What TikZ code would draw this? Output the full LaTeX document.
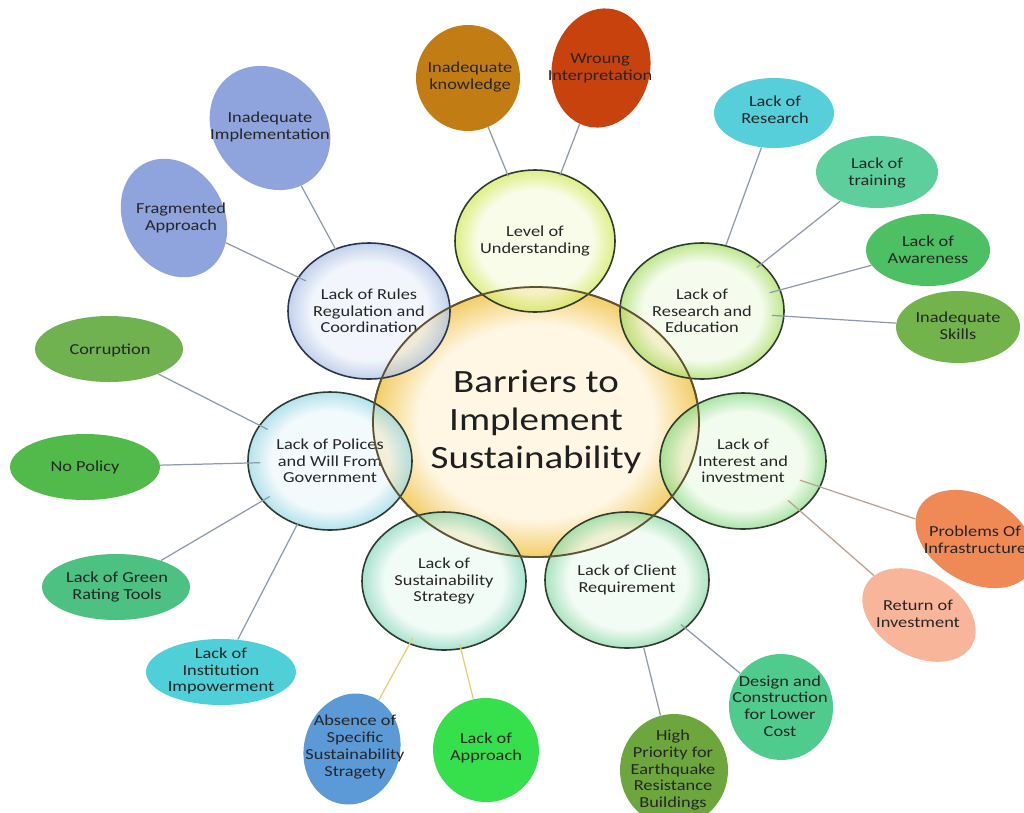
\documentclass[tikz,border=0pt]{standalone}
\usepackage{fontspec}
\newfontfamily\lblfont[FakeStretch=1.2]{Carlito}
\usetikzlibrary{shapes.geometric,calc}

% colours
\definecolor{ink}{HTML}{262626}
\definecolor{coreedge}{HTML}{5E5232}
\definecolor{hubedge}{HTML}{2F3B2F}
\definecolor{rulesedge}{HTML}{2B3550}
\definecolor{linkgray}{HTML}{8D9AAB}
\definecolor{linkgold}{HTML}{E4CF72}
\definecolor{linktan}{HTML}{B8A292}
\definecolor{cKno}{HTML}{C27C14}
\definecolor{cWro}{HTML}{C8420E}
\definecolor{cImp}{HTML}{8FA3DC}
\definecolor{cLre}{HTML}{56CFDB}
\definecolor{cLtr}{HTML}{5CCF9C}
\definecolor{cLaw}{HTML}{4DC063}
\definecolor{cIsk}{HTML}{72B34C}
\definecolor{cCor}{HTML}{70B150}
\definecolor{cNop}{HTML}{52BA4A}
\definecolor{cGre}{HTML}{4CC182}
\definecolor{cIns}{HTML}{4FD0D8}
\definecolor{cAbs}{HTML}{5B9AD6}
\definecolor{cApp}{HTML}{36E04C}
\definecolor{cHig}{HTML}{6EA63E}
\definecolor{cDes}{HTML}{4FCB8D}
\definecolor{cRet}{HTML}{F9B59A}
\definecolor{cPro}{HTML}{EF8A57}

% pale centre with a coloured rim (25bp is the rim of the shaded path)
\definecolor{glowin}{HTML}{FFFFFF}
\definecolor{glowout}{HTML}{808080}
\pgfdeclareradialshading[glowin,glowout]{glow}{\pgfpointorigin}{color(0bp)=(glowin); color(18bp)=(glowin); color(25bp)=(glowout); color(50bp)=(glowout)}

\tikzset{
  sz/.style 2 args={minimum width=#1*0.02cm, minimum height=#2*0.02cm},
  glow/.style 2 args={/utils/exec={\definecolor{glowin}{HTML}{#1}\definecolor{glowout}{HTML}{#2}}, shading=glow},
  small/.style={font=\lblfont\fontsize{8.7}{9.5}\selectfont, text=ink, align=center},
  corebubble/.style={ellipse, inner sep=0pt, draw=coreedge, line width=1pt, glow={FFF7E4}{F3CD68},
    font=\lblfont\fontsize{18.5}{21.6}\selectfont, align=center, text=black!88},
  hub/.style={ellipse, inner sep=0pt, draw=hubedge, line width=0.9pt, fill opacity=0.75, text opacity=1, small},
  leaf/.style={ellipse, inner sep=0pt, draw=none},
  leaftext/.style={small, inner sep=0pt},
  link/.style={draw=linkgray, line width=0.7pt},
  coreline/.style={draw=coreedge, line width=1pt},
}

\begin{document}
\begin{tikzpicture}[x=0.02cm, y=-0.02cm]
\useasboundingbox[fill=white] (0,0) rectangle (1024,812);

% central bubble
\node[corebubble, sz={326}{270}] (core) at (536,422) {Barriers to\\Implement\\Sustainability};

% second ring
\node[hub, sz={160}{142}, glow={F8FBE2}{D2EA5C}] (und) at (535,241) {Level of\\Understanding};
\node[hub, sz={164}{136}, glow={F4FBE8}{A9DF6A}] (res) at (702,311) {Lack of\\Research and\\Education};
\node[hub, sz={166}{136}, glow={EEFBE9}{8EDC8A}] (int) at (743,461) {Lack of\\Interest and\\investment};
\node[hub, sz={164}{136}, glow={EEFBF1}{8EDAA8}] (cli) at (627,580) {Lack of Client\\Requirement};
\node[hub, sz={164}{138}, glow={EEFBF5}{8CD9C0}] (str) at (444,581) {Lack of\\Sustainability\\Strategy};
\node[hub, sz={164}{138}, glow={EEF9FB}{9AD9E7}] (pol) at (330,461) {Lack of Polices\\and Will From\\Government};
\node[hub, sz={162}{136}, draw=rulesedge, glow={EEF2FA}{AEC3E6}] (rul) at (369,311) {Lack of Rules\\Regulation and\\Coordination};

% outline of the central bubble over the overlaps
\draw[coreline] (core.center) ellipse [x radius=163, y radius=135];

% outer ring
\node[leaf, sz={104}{106}, fill=cKno] (kno) at (468,78) {};
\node[leaf, sz={98}{120}, rotate=-12, fill=cWro] (wro) at (601,68) {};
\node[leaf, sz={112}{132}, rotate=40, fill=cImp] (imp) at (270,128) {};
\node[leaf, sz={100}{124}, rotate=30, fill=cImp] (fra) at (174,218) {};
\node[leaf, sz={120}{70}, fill=cLre] (lre) at (774,113) {};
\node[leaf, sz={122}{72}, fill=cLtr] (ltr) at (877,172) {};
\node[leaf, sz={124}{72}, fill=cLaw] (law) at (928,250) {};
\node[leaf, sz={124}{72}, fill=cIsk] (isk) at (958,327) {};
\node[leaf, sz={148}{66}, fill=cCor] (cor) at (109,349) {};
\node[leaf, sz={150}{66}, fill=cNop] (nop) at (85,467) {};
\node[leaf, sz={148}{66}, fill=cGre] (gre) at (116,587) {};
\node[leaf, sz={150}{66}, fill=cIns] (ins) at (221,672) {};
\node[leaf, sz={96}{112}, rotate=-15, fill=cAbs] (abs) at (352,749) {};
\node[leaf, sz={106}{104}, rotate=-10, fill=cApp] (app) at (486,750) {};
\node[leaf, sz={108}{112}, fill=cHig] (hig) at (674,770) {};
\node[leaf, sz={104}{106}, rotate=10, fill=cDes] (des) at (781,707) {};
\node[leaf, sz={122}{82}, rotate=-30, fill=cRet] (ret) at (919,615) {};
\node[leaf, sz={128}{86}, rotate=-30, fill=cPro] (pro) at (975,539) {};

% connectors: from each outer bubble into its hub
\foreach \a/\b in {kno/und, wro/und, imp/rul, fra/rul, lre/res, ltr/res, law/res, isk/res,
                   cor/pol, nop/pol, gre/pol, ins/pol, hig/cli, des/cli}
  \draw[link] (\a) -- ($(\b)!1.4cm!(\a)$);
\foreach \a in {abs, app}
  \draw[link, draw=linkgold] (\a) -- ($(str)!1.3cm!(\a)$);
\foreach \a in {pro, ret}
  \draw[link, draw=linktan] (\a) -- ($(int)!1.2cm!(\a)$);

% outer labels
\node[leaftext] (kno-t) at (470,77) {Inadequate\\knowledge};
\node[leaftext] (wro-t) at (600,68) {Wroung\\Interpretation};
\node[leaftext] (imp-t) at (270,127) {Inadequate\\Implementation};
\node[leaftext] (fra-t) at (181,218) {Fragmented\\Approach};
\node[leaftext] (lre-t) at (775,110) {Lack of\\Research};
\node[leaftext] (ltr-t) at (877,173) {Lack of\\training};
\node[leaftext] (law-t) at (928,250) {Lack of\\Awareness};
\node[leaftext] (isk-t) at (958,326) {Inadequate\\Skills};
\node[leaftext] (cor-t) at (110,350) {Corruption};
\node[leaftext] (nop-t) at (85,467) {No Policy};
\node[leaftext] (gre-t) at (117,587) {Lack of Green\\Rating Tools};
\node[leaftext] (ins-t) at (221,671) {Lack of\\Institution\\Impowerment};
\node[leaftext] (abs-t) at (355,747) {Absence of\\Specific\\Sustainability\\Stragety};
\node[leaftext] (app-t) at (486,748) {Lack of\\Approach};
\node[leaftext] (hig-t) at (673,770) {High\\Priority for\\Earthquake\\Resistance\\Buildings};
\node[leaftext] (des-t) at (780,706) {Design and\\Construction\\for Lower\\Cost};
\node[leaftext] (ret-t) at (918,614) {Return of\\Investment};
\node[leaftext] (pro-t) at (975,540) {Problems Of\\Infrastructure};
\end{tikzpicture}
\end{document}
